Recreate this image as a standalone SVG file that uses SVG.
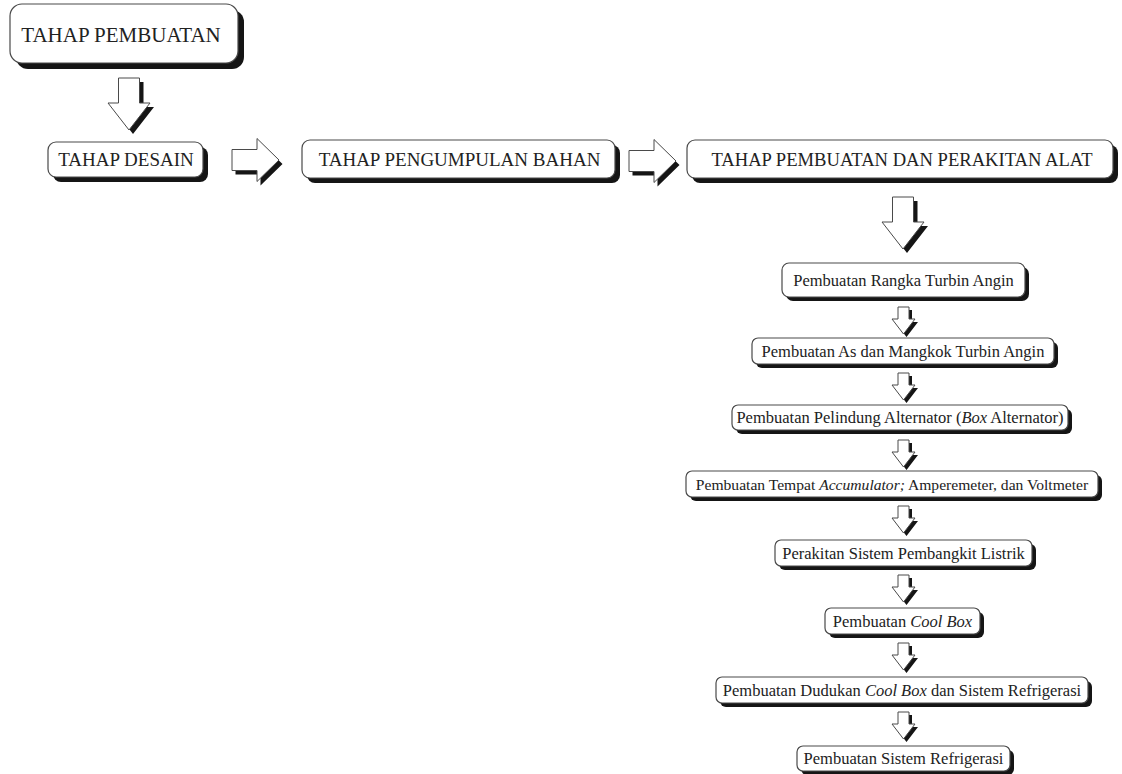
<svg xmlns="http://www.w3.org/2000/svg" width="1122" height="774" viewBox="0 0 1122 774">
<defs>
<style>
.box{fill:#fff;stroke:#4a4a4a;stroke-width:1.2}
.sh{fill:#151515}
.t{fill:#222;text-anchor:middle}
.big{font-size:19px}
.sm{font-size:16.5px}
.ar{fill:#fff;stroke:#4a4a4a;stroke-width:1}
.as{fill:#151515}
</style>
<path id="dbig" d="M-10.5,0 H10.5 V25 H21 L0,52 L-21,25 H-10.5 Z"/>
<path id="dsm" d="M-5.5,0 H5.5 V12 H11.5 L0,27 L-11.5,12 H-5.5 Z"/>
<path id="rbig" d="M0,-10.5 H25 V-21.5 L47,0 L25,21.5 V10.5 H0 Z"/>
</defs>
<rect width="1122" height="774" fill="#fff"/>

<g id="connectors">
  <g transform="translate(129,78)"><use href="#dbig" class="as" x="4" y="4"/><use href="#dbig" class="ar"/></g>
  <g transform="translate(232,160)"><use href="#rbig" class="as" x="3.5" y="4"/><use href="#rbig" class="ar"/></g>
  <g transform="translate(629,161)"><use href="#rbig" class="as" x="3.5" y="4"/><use href="#rbig" class="ar"/></g>
  <g transform="translate(903,197)"><use href="#dbig" class="as" x="4" y="4"/><use href="#dbig" class="ar"/></g>
  <g transform="translate(903.5,307)"><use href="#dsm" class="as" x="3" y="3"/><use href="#dsm" class="ar"/></g>
  <g transform="translate(903.5,373)"><use href="#dsm" class="as" x="3" y="3"/><use href="#dsm" class="ar"/></g>
  <g transform="translate(903.5,440)"><use href="#dsm" class="as" x="3" y="3"/><use href="#dsm" class="ar"/></g>
  <g transform="translate(903.5,506)"><use href="#dsm" class="as" x="3" y="3"/><use href="#dsm" class="ar"/></g>
  <g transform="translate(903.5,575)"><use href="#dsm" class="as" x="3" y="3"/><use href="#dsm" class="ar"/></g>
  <g transform="translate(903.5,643)"><use href="#dsm" class="as" x="3" y="3"/><use href="#dsm" class="ar"/></g>
  <g transform="translate(903.5,712)"><use href="#dsm" class="as" x="3" y="3"/><use href="#dsm" class="ar"/></g>
</g>

<g font-family="'Liberation Serif', 'Times New Roman', serif">
<g id="n-pembuatan">
  <rect class="sh" x="16" y="10" width="228" height="59" rx="12"/>
  <rect class="box" x="10" y="4" width="228" height="59" rx="12"/>
  <text class="t" x="121" y="41.5" font-size="21">TAHAP PEMBUATAN</text>
</g>
<g id="n-desain">
  <rect class="sh" x="53" y="147" width="155" height="35" rx="8"/>
  <rect class="box" x="48" y="142" width="155" height="35" rx="8"/>
  <text class="t big" x="126" y="166">TAHAP DESAIN</text>
</g>
<g id="n-pengumpulan">
  <rect class="sh" x="307" y="145" width="313" height="38" rx="8"/>
  <rect class="box" x="302" y="140" width="313" height="38" rx="8"/>
  <text class="t big" x="459.5" y="165.5">TAHAP PENGUMPULAN BAHAN</text>
</g>
<g id="n-perakitan">
  <rect class="sh" x="692" y="145" width="426" height="38" rx="8"/>
  <rect class="box" x="687" y="140" width="426" height="38" rx="8"/>
  <text class="t" x="902" y="165.5" font-size="18.6">TAHAP PEMBUATAN DAN PERAKITAN ALAT</text>
</g>

<g id="s1">
  <rect class="sh" x="786" y="267" width="243" height="34" rx="7"/>
  <rect class="box" x="782" y="263" width="243" height="34" rx="7"/>
  <text class="t sm" x="903.5" y="285.5">Pembuatan Rangka Turbin Angin</text>
</g>
<g id="s2">
  <rect class="sh" x="756" y="342" width="302" height="26" rx="6"/>
  <rect class="box" x="752" y="338" width="302" height="26" rx="6"/>
  <text class="t sm" x="903" y="356.5">Pembuatan As dan Mangkok Turbin Angin</text>
</g>
<g id="s3">
  <rect class="sh" x="736" y="409" width="336" height="25" rx="6"/>
  <rect class="box" x="732" y="405" width="336" height="25" rx="6"/>
  <text class="t sm" x="900" y="423">Pembuatan Pelindung Alternator (<tspan font-style="italic">Box</tspan> Alternator)</text>
</g>
<g id="s4">
  <rect class="sh" x="690" y="475" width="412" height="26" rx="6"/>
  <rect class="box" x="686" y="471" width="412" height="26" rx="6"/>
  <text class="t" x="892" y="489.5" font-size="15.6">Pembuatan Tempat <tspan font-style="italic">Accumulator;</tspan> Amperemeter, dan Voltmeter</text>
</g>
<g id="s5">
  <rect class="sh" x="779" y="544" width="257" height="26" rx="6"/>
  <rect class="box" x="775" y="540" width="257" height="26" rx="6"/>
  <text class="t sm" x="903.5" y="558.5">Perakitan Sistem Pembangkit Listrik</text>
</g>
<g id="s6">
  <rect class="sh" x="829" y="612" width="155" height="26" rx="6"/>
  <rect class="box" x="825" y="608" width="155" height="26" rx="6"/>
  <text class="t sm" x="902.5" y="626.5">Pembuatan <tspan font-style="italic">Cool Box</tspan></text>
</g>
<g id="s7">
  <rect class="sh" x="720" y="681" width="372" height="26" rx="6"/>
  <rect class="box" x="716" y="677" width="372" height="26" rx="6"/>
  <text class="t sm" x="902" y="695.5">Pembuatan Dudukan <tspan font-style="italic">Cool Box</tspan> dan Sistem Refrigerasi</text>
</g>
<g id="s8">
  <rect class="sh" x="801" y="750" width="213" height="25" rx="6"/>
  <rect class="box" x="797" y="746" width="213" height="25" rx="6"/>
  <text class="t sm" x="903.5" y="764">Pembuatan Sistem Refrigerasi</text>
</g>
</g>
</svg>
